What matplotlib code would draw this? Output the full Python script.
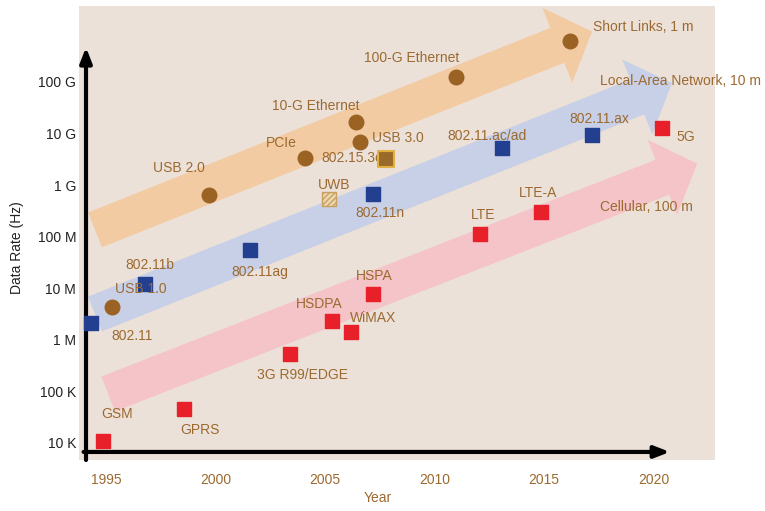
import matplotlib
matplotlib.use("Agg")
import matplotlib.pyplot as plt

plt.rcParams['font.family'] = ['Liberation Sans', 'DejaVu Sans']

# cellular (red squares)
cell_names = ['GSM', 'GPRS', '3G R99/EDGE', 'HSDPA', 'WiMAX', 'HSPA', 'LTE', 'LTE-A', '5G']
cell_years = [1994.86, 1998.56, 2003.4, 2005.32, 2006.19, 2007.19, 2012.08, 2014.86, 2020.4]
cell_rates = [1.1e4, 4.6e4, 5.3e5, 2.3e6, 1.4e6, 7.8e6, 1.12e8, 3.0e8, 1.26e10]

# wireless LAN (blue squares)
wlan_names = ['802.11', '802.11b', '802.11ag', '802.11n', '802.11.ac/ad', '802.11.ax']
wlan_years = [1994.3, 1996.8, 2001.6, 2007.2, 2013.1, 2017.2]
wlan_rates = [2.1e6, 1.2e7, 5.5e7, 6.8e8, 5.2e9, 9.3e9]

# short links (brown circles)
link_names = ['USB 1.0', 'USB 2.0', 'PCIe', '10-G Ethernet', 'USB 3.0', '100-G Ethernet', '']
link_years = [1995.27, 1999.7, 2004.1, 2006.4, 2006.6, 2011.0, 2016.2]
link_rates = [4.4e6, 6.5e8, 3.3e9, 1.66e10, 6.8e9, 1.23e11, 6.2e11]

# other short-range radios
uwb_year, uwb_rate = 2005.2, 5.4e8
c60_year, c60_rate = 2007.8, 3.2e9

# trend bands: (start year, start rate, end year, end rate, label)
bands = [
    (1994.5, 1.35e8, 2017.2, 9.5e11, 'Short Links, 1 m'),
    (1994.5, 3.16e6, 2020.85, 9.5e10, 'Local-Area Network, 10 m'),
    (1995.1, 8.9e4, 2022.0, 2.6e9, 'Cellular, 100 m'),
]
band_colors = ['#f2cba3', '#c7d0e6', '#f4c4c8']
band_label_pos = [(2019.55, 1.15e12), (2021.25, 1.05e11), (2019.7, 3.7e8)]

years = [1995, 2000, 2005, 2010, 2015, 2020]
rate_ticks = [1e4, 1e5, 1e6, 1e7, 1e8, 1e9, 1e10, 1e11]
rate_labels = ['10 K', '100 K', '1 M', '10 M', '100 M', '1 G', '10 G', '100 G']

# label offsets in points
cell_off = [(10, 19), (11.5, -15), (9, -15), (-9, 12), (16, 10), (1, 13), (2, 14), (-2, 14), (17, -6.5)]
wlan_off = [(29.5, -9), (3, 14), (6.5, -16), (5, -14), (-11, 9), (5, 11.5)]
link_off = [(21, 13), (-21.5, 19), (-17, 11), (-29, 11.5), (27, 3), (-32, 14), (0, 0)]

txt = '#9c6a30'
fig = plt.figure(figsize=(7.65, 5.11), dpi=100)
ax = fig.add_axes([79 / 765, 1 - 460 / 511, 636 / 765, 454 / 511])
ax.set_facecolor('#ece1d9')
ax.set_yscale('log')
ax.set_xlim(1993.77, 2022.81)
ax.set_ylim(10 ** 3.67, 10 ** 12.47)
for s in ax.spines.values():
    s.set_visible(False)

for (x0, y0, x1, y1, lab), col, pos in zip(bands, band_colors, band_label_pos):
    ax.annotate('', xy=(x1, y1), xytext=(x0, y0), annotation_clip=False, zorder=1,
                arrowprops=dict(arrowstyle='simple,head_length=2.7,head_width=5.8,tail_width=2.7',
                                mutation_scale=10, fc=col, ec='none', shrinkA=0, shrinkB=0))
    ax.text(pos[0], pos[1], lab, color=txt, fontsize=10, ha='center', va='center', zorder=4)

# axis arrows
ax.annotate('', xy=(1994.09, 10 ** 11.67), xytext=(1994.09, 10 ** 3.67),
            arrowprops=dict(arrowstyle='-|>,head_length=0.9,head_width=0.35', lw=3, color='black',
                            shrinkA=0, shrinkB=0))
ax.annotate('', xy=(2020.75, 10 ** 3.826), xytext=(1993.98, 10 ** 3.826),
            arrowprops=dict(arrowstyle='-|>,head_length=0.9,head_width=0.35', lw=3, color='black',
                            shrinkA=0, shrinkB=0))

ax.scatter(link_years, link_rates, s=110, marker='o', color='#9a6324', zorder=3)
ax.scatter(wlan_years, wlan_rates, s=100, marker='s', color='#233f8f', zorder=3)
ax.scatter(cell_years, cell_rates, s=100, marker='s', color='#e8202a', zorder=3)
ax.scatter([uwb_year], [uwb_rate], s=100, marker='s', fc='#ecd7b0', ec='#c9a060',
           hatch='//////', lw=1, zorder=3)
ax.scatter([c60_year], [c60_rate], s=120, marker='s', fc='#9a6a2a', ec='#e0b040', lw=1.5, zorder=3)

for names, xs, ys, offs in [(cell_names, cell_years, cell_rates, cell_off),
                            (wlan_names, wlan_years, wlan_rates, wlan_off),
                            (link_names, link_years, link_rates, link_off)]:
    for n, x, y, o in zip(names, xs, ys, offs):
        ax.annotate(n, (x, y), xytext=o, textcoords='offset points', color=txt,
                    fontsize=10, ha='center', va='center', zorder=4)
ax.annotate('UWB', (uwb_year, uwb_rate), xytext=(3.5, 10), textcoords='offset points',
            color=txt, fontsize=10, ha='center', va='center', zorder=4)
ax.annotate('802.15.3c', (c60_year, c60_rate), xytext=(-25, 1), textcoords='offset points',
            color=txt, fontsize=10, ha='center', va='center', zorder=2)

ax.set_xticks(years)
ax.set_xticklabels([str(y) for y in years], color=txt, fontsize=10)
ax.set_yticks(rate_ticks)
ax.set_yticklabels(rate_labels, color='#222222', fontsize=10)
ax.minorticks_off()
ax.tick_params(axis='x', length=0, pad=9)
ax.tick_params(axis='y', length=0, pad=2)
ax.set_xlabel('Year', color=txt, fontsize=10)
ax.xaxis.set_label_coords(0.47, -0.068)
ax.set_ylabel('Data Rate (Hz)', color='#222222', fontsize=10)
ax.yaxis.set_label_coords(-0.086, 0.467)

fig.savefig('out.png', dpi=100)
